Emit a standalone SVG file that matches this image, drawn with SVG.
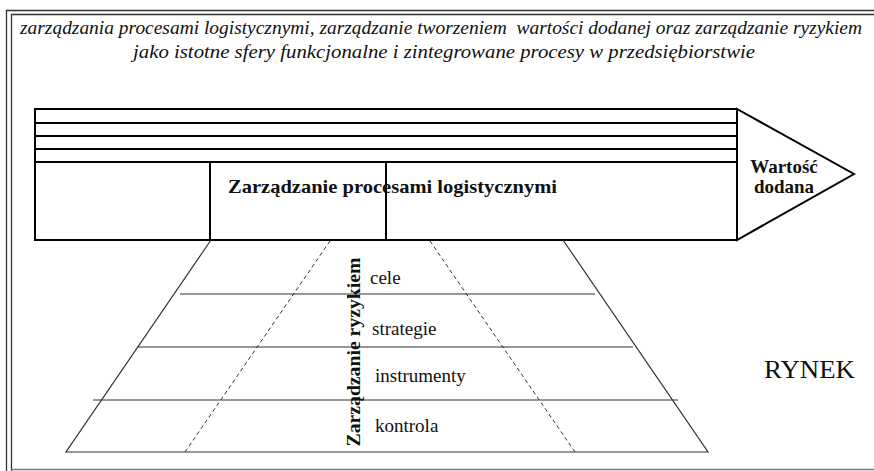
<svg xmlns="http://www.w3.org/2000/svg" width="874" height="471" viewBox="0 0 874 471">
  <style>
    .frame { stroke: #333; stroke-width: 1.3; fill: none; }
    .bar { stroke: #000; stroke-width: 2; fill: none; }
    .pyr { stroke: #333; stroke-width: 1.2; fill: none; }
    .dash { stroke: #333; stroke-width: 1; fill: none; stroke-dasharray: 4 3; }
    text { font-family: "Liberation Serif", "DejaVu Serif", serif; fill: #111; }
    .title { font-style: italic; font-size: 19px; }
    .bold { font-weight: bold; font-size: 19px; }
    .lbl { font-size: 19px; }
    .market { font-size: 26px; }
  </style>
  <rect width="874" height="471" fill="#fff"/>

  <!-- page frame -->
  <g id="frame">
    <path class="frame" d="M6.5 471 V10.5 H874"/>
    <path class="frame" d="M11.5 471 V14.5 H874"/>
    <line x1="11" y1="469.5" x2="874" y2="469.5" stroke="#777" stroke-width="1.5"/>
  </g>

  <g id="title">
    <text class="title" x="441" y="34" text-anchor="middle" textLength="842" lengthAdjust="spacingAndGlyphs" xml:space="preserve">zarządzania procesami logistycznymi, zarządzanie tworzeniem  wartości dodanej oraz zarządzanie ryzykiem</text>
    <text class="title" x="444" y="58" text-anchor="middle" textLength="622" lengthAdjust="spacingAndGlyphs">jako istotne sfery funkcjonalne i zintegrowane procesy w przedsiębiorstwie</text>
  </g>

  <!-- value chain arrow -->
  <g id="value-chain">
    <rect class="bar" x="35" y="109" width="702" height="131"/>
    <line class="bar" x1="35" y1="123" x2="737" y2="123"/>
    <line class="bar" x1="35" y1="136" x2="737" y2="136"/>
    <line class="bar" x1="35" y1="149" x2="737" y2="149"/>
    <line class="bar" x1="35" y1="162" x2="737" y2="162"/>
    <line class="bar" x1="210" y1="162" x2="210" y2="240"/>
    <line class="bar" x1="386" y1="162" x2="386" y2="240"/>
    <text class="bold" x="228" y="193" textLength="329" lengthAdjust="spacingAndGlyphs">Zarządzanie procesami logistycznymi</text>
  </g>

  <g id="value-added">
    <path class="bar" d="M737 109 L854 174 L737 240 Z"/>
    <text class="bold" x="784" y="173" text-anchor="middle">Wartość</text>
    <text class="bold" x="784" y="193" text-anchor="middle">dodana</text>
  </g>

  <!-- risk management pyramid -->
  <g id="risk-pyramid">
    <path class="pyr" d="M211 240 L66 452 H708 L563 240"/>
    <line class="pyr" x1="180" y1="294" x2="595" y2="294"/>
    <line class="pyr" x1="137" y1="347" x2="633" y2="347" stroke-width="1.5"/>
    <line class="pyr" x1="93" y1="400" x2="678" y2="400"/>
    <text class="bold" transform="translate(360 352) rotate(-90)" text-anchor="middle" textLength="189" lengthAdjust="spacingAndGlyphs">Zarządzanie ryzykiem</text>
  </g>

  <g id="connectors">
    <line class="dash" x1="330" y1="241" x2="185" y2="452"/>
    <line class="dash" x1="430" y1="241" x2="575" y2="452"/>
  </g>

  <g id="levels">
    <text class="lbl" x="370" y="284">cele</text>
    <text class="lbl" x="372" y="335">strategie</text>
    <text class="lbl" x="375" y="382">instrumenty</text>
    <text class="lbl" x="375" y="432">kontrola</text>
  </g>

  <g id="market">
    <text class="market" x="764" y="378" textLength="91" lengthAdjust="spacingAndGlyphs">RYNEK</text>
  </g>
</svg>
